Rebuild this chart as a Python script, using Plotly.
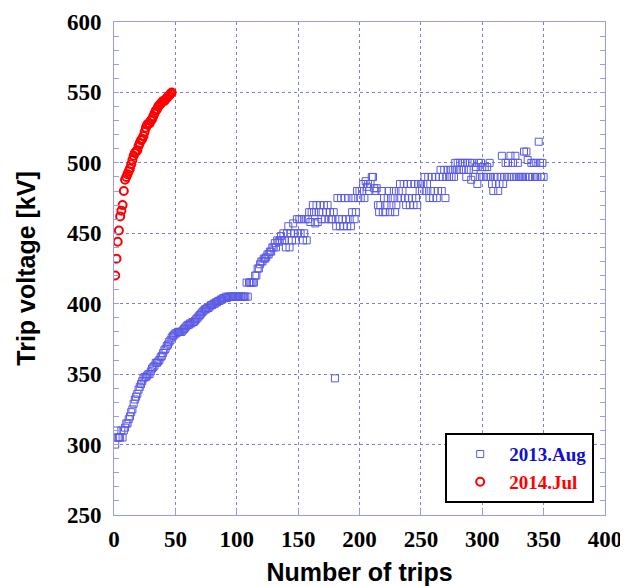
import plotly.graph_objects as go

# ---- data ----
aug2013_voltage = [
    300, 310, 305, 305, 305, 310, 305, 310, 312, 315,
    315, 318, 320, 323, 325, 329, 332, 334, 336, 339,
    341, 343, 345, 347, 348, 348, 349, 350, 350, 352,
    354, 355, 356, 358, 358, 359, 360, 362, 363, 365,
    367, 368, 370, 371, 373, 374, 376, 377, 378, 379,
    379, 380, 380, 380, 380, 381, 382, 383, 384, 385,
    385, 386, 386, 387, 387, 388, 389, 390, 391, 392,
    393, 394, 395, 396, 396, 397, 397, 398, 399, 399,
    400, 400, 401, 401, 402, 402, 403, 403, 404, 404,
    405, 404, 405, 405, 405, 405, 405, 405, 405, 405,
    405, 405, 405, 405, 405, 405, 405, 415, 405, 415,
    415, 415, 415, 415, 420, 420, 425, 425, 428, 430,
    430, 432, 432, 433, 435, 435, 437, 437, 440, 440,
    443, 440, 445, 444, 445, 448, 445, 450, 445, 440,
    450, 455, 440, 450, 445, 457, 450, 445, 460, 450,
    460, 450, 460, 445, 450, 460, 445, 460, 465, 458,
    465, 470, 465, 457, 470, 458, 465, 470, 460, 465,
    470, 460, 465, 470, 460, 465, 460, 460, 465, 347,
    455, 475, 460, 455, 475, 460, 455, 475, 460, 455,
    475, 460, 455, 465, 475, 460, 465, 480, 475, 480,
    475, 480, 485, 475, 487, 483, 485, 480, 485, 490,
    490, 482, 480, 482, 470, 465, 470, 480, 465, 475,
    465, 470, 475, 480, 465, 470, 475, 480, 465, 470,
    475, 480, 485, 475, 480, 485, 475, 470, 485, 475,
    470, 485, 475, 470, 485, 475, 470, 485, 480, 485,
    480, 485, 490, 480, 485, 490, 475, 480, 490, 475,
    480, 490, 475, 480, 490, 495, 480, 490, 495, 475,
    490, 495, 490, 495, 490, 495, 490, 500, 495, 500,
    495, 500, 495, 500, 495, 500, 490, 500, 495, 500,
    488, 500, 495, 490, 497, 485, 500, 490, 500, 497,
    490, 497, 490, 497, 490, 500, 490, 485, 480, 490,
    485, 490, 480, 485, 490, 505, 485, 490, 500, 490,
    500, 490, 505, 490, 500, 490, 505, 490, 500, 490,
    490, 490, 490, 508, 490, 508, 502, 490, 490, 500,
    490, 500, 490, 500, 490, 515, 500, 490, 500, 490,
]
aug2013_trips = list(range(1, len(aug2013_voltage) + 1))

jul2014_voltage = [
    420, 432, 444, 452, 462, 466, 470, 480, 488, 490,
    492, 494, 496, 499, 502, 505, 507, 508, 509, 512,
    514, 516, 517, 519, 522, 525, 527, 528, 528, 530,
    531, 533, 535, 537, 538, 540, 541, 542, 543, 544,
    544, 545, 546, 547, 548, 549, 550,
]
jul2014_trips = list(range(1, len(jul2014_voltage) + 1))

x_ticks = [0, 50, 100, 150, 200, 250, 300, 350, 400]
y_ticks = [250, 300, 350, 400, 450, 500, 550, 600]

AXIS_COLOR = "#9a9af5"
GRID_COLOR = "#7c7ce0"
TICK_FONT = dict(family="Liberation Serif", size=23, color="black", weight="bold")
TITLE_FONT = dict(family="Liberation Sans", size=25, color="black", weight="bold")

fig = go.Figure()
fig.add_trace(go.Scatter(
    x=aug2013_trips, y=aug2013_voltage, mode="markers",
    name="<span style='color:#1010d0'>2013.Aug</span>",
    marker=dict(symbol="square-open", size=7, color="#5a5ae6",
                line=dict(width=1, color="#5a5ae6")),
))
fig.add_trace(go.Scatter(
    x=jul2014_trips, y=jul2014_voltage, mode="markers",
    name="<span style='color:#ff0000'>2014.Jul</span>",
    marker=dict(symbol="circle-open", size=8, color="#ff0000",
                line=dict(width=2, color="#ff0000")),
))

# the page body adds an 8px offset; the figure is sized to fit the window
fig.update_layout(
    width=620, height=579,
    margin=dict(l=106, r=23, t=14, b=72),
    paper_bgcolor="white", plot_bgcolor="white",
    showlegend=True,
    legend=dict(
        x=0.978, y=0.024, xanchor="right", yanchor="bottom",
        bgcolor="white", bordercolor="black", borderwidth=2,
        font=dict(family="Liberation Serif", size=19, weight="bold"),
        itemwidth=48, indentation=4, tracegroupgap=0,
    ),
)
fig.update_xaxes(
    range=[0, 400], tickvals=x_ticks, ticktext=[str(v) for v in x_ticks],
    showline=True, linecolor=AXIS_COLOR, linewidth=1, mirror=True,
    ticks="inside", ticklen=6, tickcolor=AXIS_COLOR,
    showgrid=True, gridcolor=GRID_COLOR, griddash="dot", gridwidth=1,
    zeroline=False, tickfont=TICK_FONT, ticklabelstandoff=3,
    automargin=False,
    title=dict(text="Number of trips", font=TITLE_FONT, standoff=12),
)
fig.update_yaxes(
    range=[250, 600], tickvals=y_ticks, ticktext=[str(v) for v in y_ticks],
    showline=True, linecolor=AXIS_COLOR, linewidth=1, mirror="ticks",
    ticks="inside", ticklen=5, tickcolor=AXIS_COLOR,
    minor=dict(dtick=10, ticks="inside", ticklen=5, tickcolor=AXIS_COLOR, showgrid=False),
    showgrid=True, gridcolor=GRID_COLOR, griddash="dot", gridwidth=1,
    zeroline=False, tickfont=TICK_FONT, ticklabelstandoff=7,
    automargin=False,
    title=dict(text="Trip voltage [kV]", font=TITLE_FONT, standoff=24),
)

fig.write_html("out.html")
